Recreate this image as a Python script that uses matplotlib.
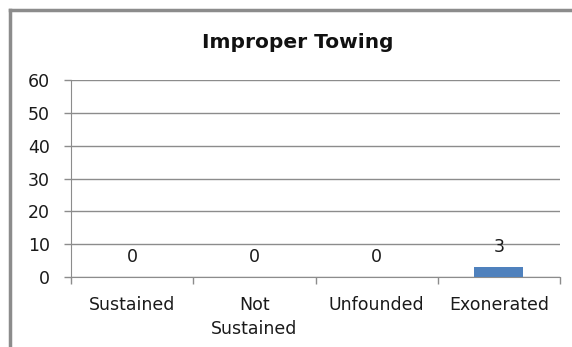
import numpy as np
import matplotlib.pyplot as plt
from matplotlib.lines import Line2D

categories = ["Sustained", "Not\nSustained", "Unfounded", "Exonerated"]
values = [0, 0, 0, 3]
yticks = [0, 10, 20, 30, 40, 50, 60]

plt.rcParams['font.family'] = ['DejaVu Sans']

fig = plt.figure(figsize=(5.72, 3.47), dpi=100)
ax = fig.add_axes([71 / 572, 70 / 347, (560 - 71) / 572, (277 - 80) / 347])

x = np.arange(len(categories))
ax.bar(x, values, width=0.4, color='#4F81BD', zorder=3)
for xi, v in zip(x, values):
    ax.annotate(str(v), (xi, v), xytext=(0, 14.5), textcoords='offset points',
                ha='center', va='center', fontsize=12.5, color='#1a1a1a')

ax.set_xlim(-0.5, len(categories) - 0.5)
ax.set_ylim(0, 60)
ax.set_yticks(yticks)
ax.yaxis.grid(True, color='#8c8c8c', linewidth=1)
ax.set_axisbelow(True)

ax.set_xticks(np.arange(len(categories) + 1) - 0.5, minor=False)
ax.set_xticklabels([])
ax.set_xticks(x, minor=True)
ax.set_xticklabels(categories, minor=True, fontsize=12.5, color='#1a1a1a',
                   linespacing=1.45)
ax.tick_params(axis='x', which='major', length=5, color='#8c8c8c', width=1)
ax.tick_params(axis='x', which='minor', length=0, pad=13.5)
ax.tick_params(axis='y', length=5, color='#8c8c8c', width=1, labelsize=12.5,
               labelcolor='#1a1a1a', pad=10)

for s in ['top', 'right']:
    ax.spines[s].set_visible(False)
ax.spines['left'].set_color('#8c8c8c')
ax.spines['bottom'].set_color('#8c8c8c')

fig.text(298 / 572, 1 - 42 / 347, "Improper Towing", ha='center', va='center',
         fontsize=14.5, fontweight='bold', color='#111111')

# outer chart border (only top and left edges visible)
fig.add_artist(Line2D([10 / 572, 1], [1 - 10 / 347, 1 - 10 / 347],
                      transform=fig.transFigure, color='#8c8c8c', linewidth=2.5))
fig.add_artist(Line2D([10 / 572, 10 / 572], [1 - 10 / 347, 0],
                      transform=fig.transFigure, color='#8c8c8c', linewidth=2.5))

fig.savefig('out.png', dpi=100)
